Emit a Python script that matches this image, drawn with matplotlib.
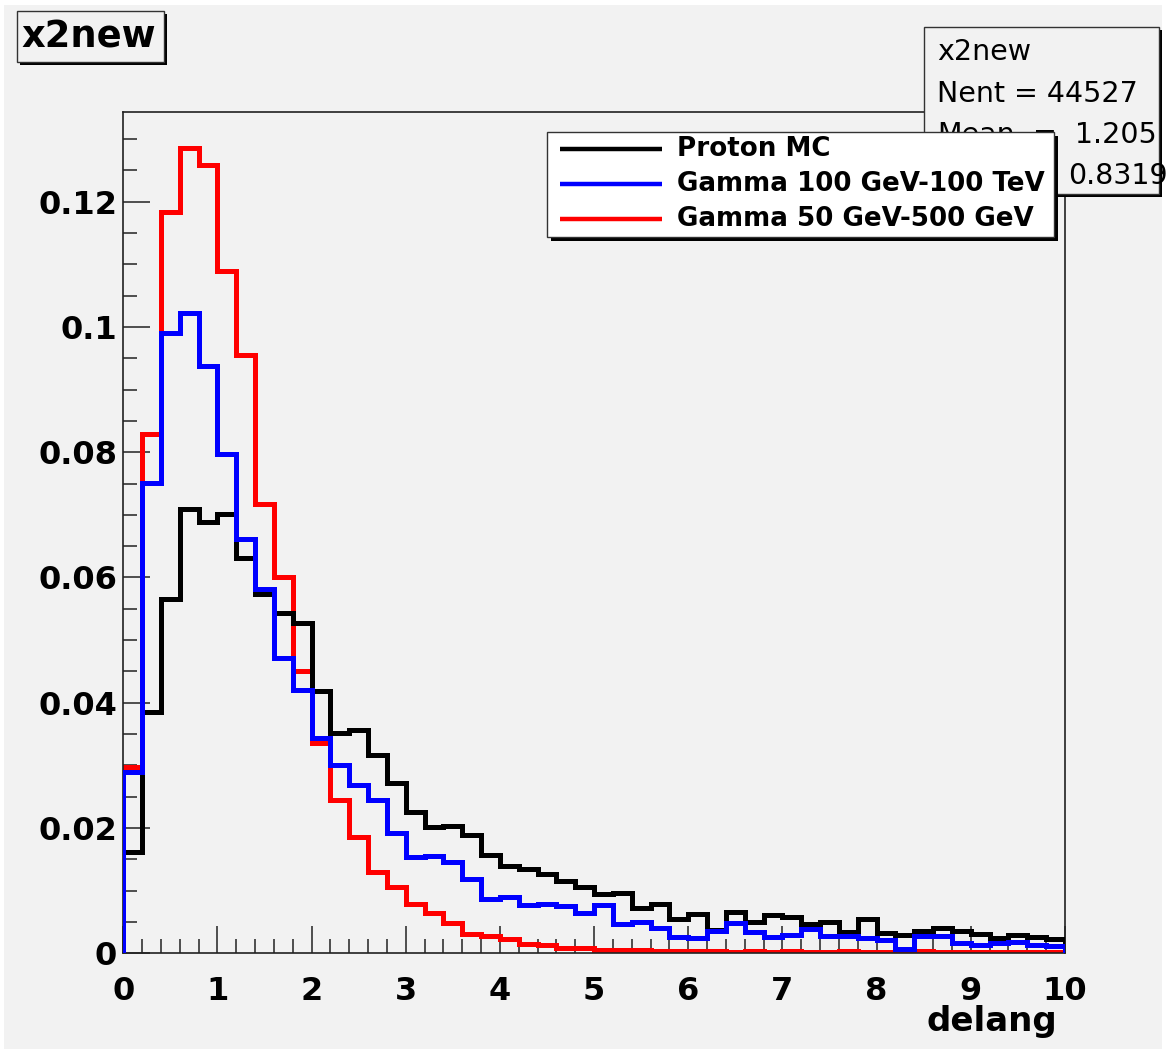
import numpy as np
import matplotlib
matplotlib.use("Agg")
import matplotlib.pyplot as plt
from matplotlib.patches import Rectangle
from matplotlib.lines import Line2D
from matplotlib.ticker import MultipleLocator, FuncFormatter

# ---------------- data ----------------
bin_edges = np.linspace(0, 10, 51)

proton_mc = [0.0162, 0.0385, 0.0565, 0.0709, 0.0689, 0.0701, 0.0631, 0.0573, 0.0544, 0.0527,
             0.0418, 0.0352, 0.0357, 0.0317, 0.0272, 0.0225, 0.0201, 0.0204, 0.0189, 0.0157,
             0.0140, 0.0135, 0.0127, 0.0116, 0.0106, 0.0095, 0.0096, 0.0073, 0.0078, 0.0055,
             0.0062, 0.0037, 0.0066, 0.0050, 0.0061, 0.0058, 0.0046, 0.0050, 0.0034, 0.0054,
             0.0033, 0.0030, 0.0036, 0.0040, 0.0035, 0.0031, 0.0025, 0.0030, 0.0026, 0.0023]

gamma_100gev_100tev = [0.0290, 0.0751, 0.0991, 0.1023, 0.0938, 0.0797, 0.0661, 0.0581, 0.0471, 0.0421,
                       0.0343, 0.0301, 0.0269, 0.0245, 0.0192, 0.0153, 0.0155, 0.0146, 0.0118, 0.0086,
                       0.0090, 0.0077, 0.0079, 0.0075, 0.0065, 0.0077, 0.0047, 0.0050, 0.0040, 0.0026,
                       0.0025, 0.0035, 0.0049, 0.0034, 0.0026, 0.0029, 0.0039, 0.0027, 0.0027, 0.0025,
                       0.0022, 0.0007, 0.0027, 0.0027, 0.0017, 0.0013, 0.0017, 0.0018, 0.0013, 0.0011]

gamma_50gev_500gev = [0.0298, 0.0829, 0.1184, 0.1285, 0.1258, 0.1089, 0.0956, 0.0718, 0.0600, 0.0450,
                      0.0336, 0.0245, 0.0186, 0.0130, 0.0106, 0.0078, 0.0065, 0.0048, 0.0031, 0.0027,
                      0.0023, 0.0015, 0.0013, 0.0009, 0.0009, 0.0006, 0.0005, 0.0005, 0.0004, 0.0004,
                      0.0003, 0.0003, 0.0002, 0.0003, 0.0002, 0.0003, 0.0002, 0.0002, 0.0003, 0.0002,
                      0.0002, 0.0002, 0.0003, 0.0002, 0.0002, 0.0002, 0.0002, 0.0002, 0.0002, 0.0002]

legend_labels = ["Proton MC", "Gamma 100 GeV-100 TeV", "Gamma 50 GeV-500 GeV"]
series_colors = ["black", "blue", "red"]

hist_title = "x2new"
stats_names = ["Nent", "Mean", "RMS"]
stats_values = ["44527", "1.205", "0.8319"]
x_label = "delang"

# ---------------- figure ----------------
W, H = 1167, 1053
BG = "#f2f2f2"
fig = plt.figure(figsize=(W / 100, H / 100), dpi=100, facecolor="white")

def fx(x):
    return x / W

def fy(y):
    return 1 - y / H

# gray canvas
fig.add_artist(Rectangle((fx(4), fy(1049)), fx(1162) - fx(4), fy(5) - fy(1049),
                         transform=fig.transFigure, facecolor=BG, edgecolor="none", zorder=-10))

ax_l, ax_r, ax_t, ax_b = 123.3, 1065.0, 111.5, 953.3
ax = fig.add_axes([fx(ax_l), fy(ax_b), fx(ax_r) - fx(ax_l), fy(ax_t) - fy(ax_b)])
ax.set_facecolor(BG)

lw = 3.6
ax.stairs(gamma_50gev_500gev, bin_edges, color="red", lw=lw, baseline=0, zorder=2)
ax.stairs(proton_mc, bin_edges, color="black", lw=lw, baseline=0, zorder=3)
ax.stairs(gamma_100gev_100tev, bin_edges, color="blue", lw=lw, baseline=0, zorder=4)

ax.set_xlim(0, 10)
ax.set_ylim(0, 0.1344)

ax.xaxis.set_major_locator(MultipleLocator(1))
ax.xaxis.set_minor_locator(MultipleLocator(0.2))
ax.yaxis.set_major_locator(MultipleLocator(0.02))
ax.yaxis.set_minor_locator(MultipleLocator(0.005))
ax.yaxis.set_major_formatter(FuncFormatter(lambda v, p: "%g" % round(v, 4)))

ax.tick_params(axis="both", which="both", direction="in", top=False, right=False,
               color="#222222", width=1.1)
ax.tick_params(axis="both", which="major", length=19.5)
ax.tick_params(axis="both", which="minor", length=10)
ax.tick_params(axis="x", which="major", pad=16)
ax.tick_params(axis="y", which="major", pad=4.5)
for lab in ax.get_xticklabels() + ax.get_yticklabels():
    lab.set_fontweight("bold")
    lab.set_fontsize(23)
    lab.set_family("DejaVu Sans")

for s in ax.spines.values():
    s.set_linewidth(1.2)
    s.set_color("#222222")

ax.set_xlabel(x_label, fontsize=24.5, fontweight="bold", ha="right", va="center")
ax.xaxis.set_label_coords((1057 - ax_l) / (ax_r - ax_l), (ax_b - 1022) / (ax_b - ax_t))

# ---------------- boxes ----------------
def box(x0, y0, x1, y1, z, shadow=4, face=BG):
    fig.add_artist(Rectangle((fx(x0 + shadow), fy(y1 + shadow)), fx(x1) - fx(x0), fy(y0) - fy(y1),
                             transform=fig.transFigure, facecolor="black", edgecolor="none",
                             zorder=z))
    fig.add_artist(Rectangle((fx(x0), fy(y1)), fx(x1) - fx(x0), fy(y0) - fy(y1),
                             transform=fig.transFigure, facecolor=face, edgecolor="#333333",
                             lw=1.0, zorder=z + 0.1))

# title box
box(17, 11, 164, 62, 5, shadow=3)
fig.text(fx(21), fy(37), hist_title, fontsize=26.5, fontweight="bold", ha="left", va="center",
         zorder=6)

# stats box (partly hidden behind the legend, as in the reference)
SF = 20.5
box(924, 27, 1159, 194, 7, shadow=3)
fig.text(fx(937), fy(60), hist_title, fontsize=SF, ha="left", va="baseline", zorder=8)
fig.text(fx(937), fy(102), f"{stats_names[0]} = {stats_values[0]}", fontsize=SF,
         ha="left", va="baseline", zorder=8)
fig.text(fx(937), fy(143), stats_names[1], fontsize=SF, ha="left", va="baseline", zorder=8)
fig.text(fx(1157), fy(143), "=  " + stats_values[1], fontsize=SF, ha="right", va="baseline",
         zorder=8)
fig.text(fx(1068), fy(184), stats_values[2], fontsize=SF, ha="left", va="baseline", zorder=8)

# legend
box(547, 132, 1054, 237, 10, shadow=4, face="white")
leg_rows = [149.3, 184.0, 219.0]
for lab, col, yy in zip(legend_labels, series_colors, leg_rows):
    fig.add_artist(Line2D([fx(560), fx(662)], [fy(yy), fy(yy)], transform=fig.transFigure,
                          color=col, lw=3.2, zorder=11, solid_capstyle="butt"))
    fig.text(fx(677), fy(yy), lab, fontsize=18.8, fontweight="bold", ha="left", va="center",
             zorder=11)

fig.savefig("out.png", dpi=100, facecolor=fig.get_facecolor())
